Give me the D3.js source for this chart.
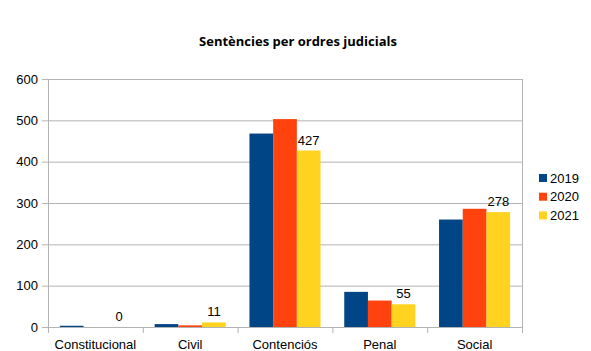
<!DOCTYPE html>
<html>
<head>
<meta charset="utf-8">
<script src="https://cdn.jsdelivr.net/npm/d3@7"></script>
<style>
  body { margin: 0; background: #fff; }
  text { font-family: "Liberation Sans", Arial, sans-serif; }
</style>
</head>
<body>
<div id="chart"></div>
<script>
// data
const categories = ['Constitucional', 'Civil', 'Contenciós', 'Penal', 'Social'];
const years = ['2019', '2020', '2021'];
const values2019 = [3, 7, 468, 85, 260];
const values2020 = [0, 4, 503, 64, 286];
const values2021 = [0, 11, 427, 55, 278];
const yTicks = [0, 100, 200, 300, 400, 500, 600];
const colors = ['#004586', '#ff420e', '#ffd320'];

const series = [values2019, values2020, values2021];

const W = 591, H = 351;
const margin = {top: 79, right: 69, bottom: 24, left: 48};
const width = W - margin.left - margin.right;
const height = H - margin.top - margin.bottom;

const svg = d3.select('#chart').append('svg')
    .attr('width', W)
    .attr('height', H);

svg.append('text')
    .attr('x', 298)
    .attr('y', 46)
    .attr('text-anchor', 'middle')
    .style('font-family', '"Open Sans", sans-serif')
    .attr('font-weight', 'bold')
    .attr('font-size', '13px')
    .attr('fill', '#000')
    .text('Sentències per ordres judicials');

const g = svg.append('g')
    .attr('transform', `translate(${margin.left},${margin.top})`);

const x = d3.scaleBand().domain(categories).range([0, width]).paddingInner(0).paddingOuter(0);
const y = d3.scaleLinear().domain([0, 600]).range([height, 0]);
const xInner = d3.scaleBand().domain(years)
    .range([x.bandwidth() * 0.125, x.bandwidth() * 0.875]);

// gridlines + left ticks
g.selectAll('.grid')
    .data(yTicks)
    .enter()
    .append('line')
    .attr('x1', -6)
    .attr('x2', width)
    .attr('y1', d => y(d) + 0.5)
    .attr('y2', d => y(d) + 0.5)
    .attr('stroke', '#b3b3b3')
    .attr('stroke-width', 1);

g.selectAll('.ylabel')
    .data(yTicks)
    .enter()
    .append('text')
    .attr('x', -10)
    .attr('y', d => y(d))
    .attr('dy', '0.36em')
    .attr('text-anchor', 'end')
    .attr('font-size', '13px')
    .attr('fill', '#000')
    .text(d => d);

// vertical axis lines
[0, width].forEach(px => {
    g.append('line')
        .attr('x1', px + 0.5).attr('x2', px + 0.5)
        .attr('y1', 0).attr('y2', height + 6)
        .attr('stroke', '#b3b3b3');
});

// category boundary ticks
g.selectAll('.xtick')
    .data(categories.slice(1))
    .enter()
    .append('line')
    .attr('x1', d => x(d) + 0.5)
    .attr('x2', d => x(d) + 0.5)
    .attr('y1', height)
    .attr('y2', height + 6)
    .attr('stroke', '#b3b3b3');

// bars
series.forEach((vals, si) => {
    g.selectAll(`.bar${si}`)
        .data(vals)
        .enter()
        .append('rect')
        .attr('x', (d, i) => x(categories[i]) + xInner(years[si]))
        .attr('width', xInner.bandwidth())
        .attr('y', d => y(d))
        .attr('height', d => height - y(d))
        .attr('fill', colors[si]);
});

// data labels on 2021
g.selectAll('.lbl')
    .data(values2021)
    .enter()
    .append('text')
    .attr('x', (d, i) => x(categories[i]) + xInner('2021') + xInner.bandwidth() / 2)
    .attr('y', d => y(d) - 6)
    .attr('text-anchor', 'middle')
    .attr('font-size', '13px')
    .attr('fill', '#000')
    .text(d => d);

// category labels
g.selectAll('.xlabel')
    .data(categories)
    .enter()
    .append('text')
    .attr('x', d => x(d) + x.bandwidth() / 2)
    .attr('y', height + 17)
    .attr('dy', '0.36em')
    .attr('text-anchor', 'middle')
    .attr('font-size', '13px')
    .attr('fill', '#000')
    .text(d => d);

// legend
const legend = svg.append('g').attr('transform', 'translate(539,178)');
years.forEach((yr, i) => {
    const row = legend.append('g').attr('transform', `translate(0,${i * 18.7})`);
    row.append('rect')
        .attr('x', 0).attr('y', -4)
        .attr('width', 8).attr('height', 8)
        .attr('fill', colors[i]);
    row.append('text')
        .attr('x', 11).attr('y', 0)
        .attr('dy', '0.36em')
        .attr('font-size', '13px')
        .attr('fill', '#000')
        .text(yr);
});
</script>
</body>
</html>
